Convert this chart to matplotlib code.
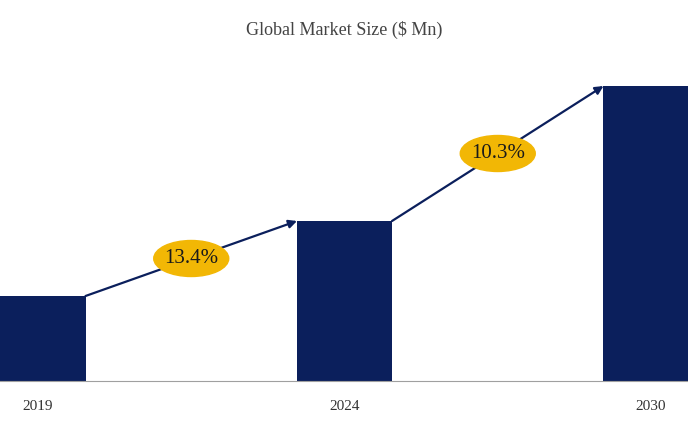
import matplotlib
matplotlib.use("Agg")
import matplotlib.pyplot as plt
from matplotlib.patches import Ellipse

years = ["2019", "2024", "2030"]
values = [85, 160, 295]
cagr_labels = ["13.4%", "10.3%"]

W, H = 688, 424
fig = plt.figure(figsize=(W/100, H/100), dpi=100)
ax = fig.add_axes([0, 43/H, 1, 320/H])
x = list(range(len(years)))
ax.bar(x, values, width=0.31, color="#0b1f5c", zorder=2)
ax.set_xlim(-38/306.5, (W-38)/306.5)
ax.set_ylim(0, 320)
for s in ["top", "right", "left"]:
    ax.spines[s].set_visible(False)
ax.spines["bottom"].set_color("#a0a0a0")
ax.set_yticks([])
ax.set_xticks(x)
ax.set_xticklabels(years, fontfamily="Liberation Serif", fontsize=11, color="#333333")
ax.tick_params(axis="x", length=0, pad=14)

hw = 0.155
for i, lab in enumerate(cagr_labels):
    x0, y0 = x[i] + hw, values[i]
    x1, y1 = x[i+1] - hw, values[i+1]
    ax.annotate("", xy=(x1, y1), xytext=(x0, y0),
                arrowprops=dict(arrowstyle="-|>", color="#0b1f5c", lw=1.6,
                                mutation_scale=12, shrinkA=0, shrinkB=0), zorder=3)
    mx, my = (x0+x1)/2, (y0+y1)/2
    ax.add_patch(Ellipse((mx, my), 75/306.5, 36, color="#f2b705", zorder=4))
    ax.text(mx, my, lab, ha="center", va="center", fontsize=15,
            fontfamily="Liberation Serif", color="#1a1a1a", zorder=5)

fig.text(0.5, 1-30/H, "Global Market Size ($ Mn)", ha="center", va="center",
         fontsize=13, fontfamily="Liberation Serif", color="#444444")
fig.savefig("out.png", dpi=100)
